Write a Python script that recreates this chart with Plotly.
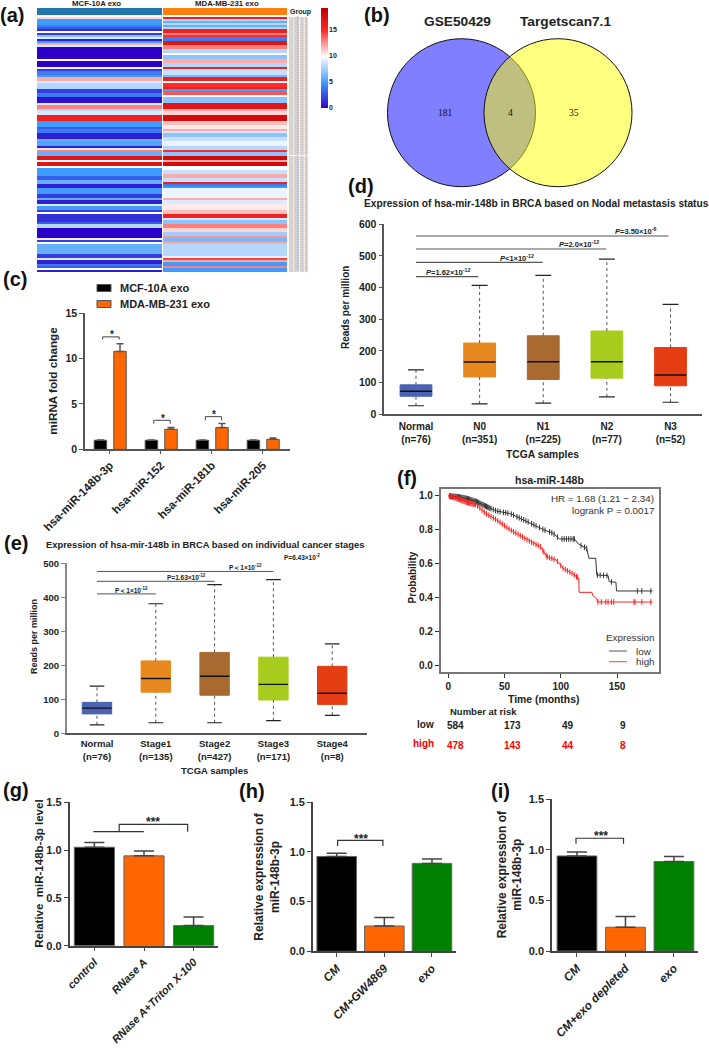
import numpy as np
import plotly.graph_objects as go

W, H = 709, 1048
FONT = "Liberation Sans"

# ---------- (a) heatmap
heat_groups = ["MCF-10A exo", "MDA-MB-231 exo"]
heat_left = [11,5,5,5,4,3,1.5,10,2,7,9,1,5,12,9,0,0,0,0,0,0,10,0,0,0,9.5,2,4,4,5,12,12,9,8,8,8,2,2,4,4,0.5,0.5,0.5,9,13,13,8,9,9,16,16,16,5,5,5,3,4,4,1,1,1,6,5.5,5.5,1,9,13,6,6,17,17,10,17,17,10,5,5,5,5,3,3,6,6,1,1,5,5,5,2,2,6,1,1,9,5,5,2,10,1.5,1.5,1.5,1.5,3,8,8,0,0,0,0,0,9.5,2,10,6,6,6,6,6,2,2,9,1,1,4,3,10,1]
heat_right = [16,8,6,8,6,8,16,16,13,15,4,4,17,17,13,13,8,8,10,7,7,12,12,8,8,16,8.5,8.5,8.5,6.5,16,16,10,15,15,16,5,14,14,10,7,7,7,17,17,17,12,11,11,18,18,18,11.5,11.5,10.5,10.5,12,9,7,7,8.5,8.5,9.5,9.5,8,8,15,7,7,18,18,12,18,18,10,10,8.5,8.5,12,12,8.5,8.5,16,4,5,9.5,9.5,9.5,9.5,9.5,12,9,9,10.5,10.5,10.5,11.5,11.5,16,16,9,7,7,13,13,11,11,7.5,7.5,12.5,6.5,6.5,12,8,8,8,8,8,8,9.5,14.5,12,5,5,13,5,5]
heat_right = heat_right[:len(heat_left)]
heat_labels = ["hsa-miR-xxx-5p"] * len(heat_left)
heat_ticks = [0, 5, 10, 15]
heat_scale = [0, 1, 2, 3, 4, 5, 6, 7, 8, 9, 10, 11, 12, 13, 14, 15, 16, 17, 18, 19]

# ---------- (b) venn
venn_names = ["GSE50429", "Targetscan7.1"]
venn_counts = ["181", "4", "35"]
venn_centers = [-0.652, 0.652]

# ---------- (c)
c_cats = ["hsa-miR-148b-3p", "hsa-miR-152", "hsa-miR-181b", "hsa-miR-205"]
c_10a = [1, 1, 1, 1]
c_231 = [10.8, 2.2, 2.4, 1.1]
c_10a_err = [0.03, 0.03, 0.03, 0.03]
c_231_err = [0.85, 0.2, 0.45, 0.15]

# ---------- (d)
d_cats = ["Normal<br>(n=76)", "N0<br>(n=351)", "N1<br>(n=225)", "N2<br>(n=77)", "N3<br>(n=52)"]
d_low = [27, 33, 35, 55, 38]
d_q1 = [57, 118, 110, 114, 90]
d_med = [73, 165, 166, 166, 124]
d_q3 = [93, 225, 248, 263, 211]
d_high = [140, 407, 439, 490, 347]
d_p_y = [435, 480, 522, 563]
box_colors = ["#4A63B4", "#E8891F", "#A86A30", "#A8CC1E", "#E43D14"]

# ---------- (e)
e_cats = ["Normal<br>(n=76)", "Stage1<br>(n=135)", "Stage2<br>(n=427)", "Stage3<br>(n=171)", "Stage4<br>(n=8)"]
e_low = [25, 31, 31, 37, 53]
e_q1 = [57, 121, 112, 98, 85]
e_med = [74, 161, 168, 144, 118]
e_q3 = [91, 213, 238, 224, 197]
e_high = [139, 381, 437, 452, 263]
e_p_y = [410, 447, 476, 507]

# ---------- (f)
km_low_t = [0,7.4,16,25,34,43,55,64,73,85,93,99,112,116,123,125,131,132,142,143,149,149.5,181.6]
km_low_p = [1,.996,.986,.967,.937,.911,.896,.868,.84,.80,.78,.746,.746,.715,.69,.632,.632,.533,.53,.494,.49,.439,.439]
km_high_t = [0,7.4,16,25,33,43,55,64,73,82,87.5,96,102,110,116,116.3,127.6,128.5,132,132.6,181.6]
km_high_p = [1,.986,.963,.947,.898,.858,.80,.766,.73,.70,.642,.622,.573,.543,.514,.431,.431,.411,.392,.374,.374]
km_low_cens = [1,2,3,4,5,6,7,8,9,10,11,12,13,14,15,16,17,18,19,20,21,22,23,24,25,26,27,28,29,30,31,32,33,34,35,36,37,38,40,42,44,46,49,51,53,56,58,61,63,65,67,69,71,74,76,78,81,84,86,90,92,94,97,101,103,105,107,109,111,112,118,121,123,132.5,135,138,141,145,168,172,180]
km_high_cens = [1,2,3,4,5,6,7,8,9,10,11,12,13,14,15,16,17,18,19,20,21,22,23,24,26,28,30,32,34,36,38,40,42,44,46,48,50,52,54,56,58,60,62,64,66,68,70,72,74,76,78,80,82,84,85,87,88,90,92,94,97,100,102,104,106,108,110,112,114,115,133,136,140,142,145,147,165,166,172,180]
risk_months = ["584", "173", "49", "9"]
risk_high = ["478", "143", "44", "8"]

# ---------- (g)(h)(i)
g_cats = ["control", "RNase A", "RNase A+Triton X-100"]
g_vals = [1.03, 0.94, 0.21]
g_err = [0.05, 0.05, 0.09]
h_cats = ["CM", "CM+GW4869", "exo"]
h_vals = [0.955, 0.255, 0.885]
h_err = [0.032, 0.085, 0.045]
i_cats = ["CM", "CM+exo depleted", "exo"]
i_vals = [0.94, 0.235, 0.885]
i_err = [0.04, 0.105, 0.049]
bar3_colors = ["#000000", "#FF6600", "#008000"]


def xd(a, b):
    return [a / W, b / W]


def yd(top, bottom):
    return [1 - bottom / H, 1 - top / H]


fig = go.Figure()
annotations = []
shapes = []


def note(x, y, text, size=9.5, bold=True, anchor="center", color="#222", angle=0, family=FONT):
    if bold:
        text = "<b>%s</b>" % text
    annotations.append(dict(x=x / W, y=1 - y / H, xref="paper", yref="paper", text=text, showarrow=False,
                            xanchor=anchor, yanchor="middle", textangle=angle,
                            font=dict(size=size, color=color, family=family), align="center",
                            borderpad=0, borderwidth=0))


def line_axis(dom, rng, anchor, color="#555", lw=1.5, ticks="outside", **kw):
    d = dict(domain=dom, range=rng, anchor=anchor, showgrid=False, zeroline=False, showline=True,
             linecolor=color, linewidth=lw, ticks=ticks, ticklen=4, tickcolor=color, tickwidth=1.2,
             fixedrange=True)
    d.update(kw)
    return d


def tf(size=9.5, bold=True, color="#222"):
    return dict(size=size, color=color, family=FONT, weight="bold" if bold else "normal")


layout = {}

# (a)
HEAT_COLORS = [[0, "#2C00C8"], [0.26, "#3F9BFF"], [0.52, "#FFFFFF"], [0.78, "#FF2A2A"], [1, "#BE0000"]]
z = [[a, b] for a, b in zip(heat_left, heat_right)]
fig.add_heatmap(z=z, x=[0, 1], y=list(range(len(z))), xaxis="x", yaxis="y", zmin=0, zmax=19.2, xgap=1,
                colorscale=HEAT_COLORS, showscale=False)
layout["xaxis"] = dict(domain=xd(37, 288), range=[-0.5, 1.5], anchor="y", showticklabels=False, ticks="",
                       showgrid=False, zeroline=False, fixedrange=True)
layout["yaxis"] = dict(domain=yd(17, 272), range=[len(z) - 0.5, -0.5], anchor="x", side="right", tickmode="array",
                       tickvals=list(range(len(z))), ticktext=heat_labels, ticks="", ticklen=0,
                       tickfont=dict(size=2.7, color="#888", family=FONT), showgrid=False, zeroline=False, fixedrange=True)
fig.add_heatmap(z=[[0, 1]], x=[0, 1], y=[0], xaxis="x2", yaxis="y2", showscale=False, xgap=1,
                colorscale=[[0, "#2176AE"], [1, "#FF7F0E"]])
layout["xaxis2"] = dict(domain=xd(37, 288), range=[-0.5, 1.5], anchor="y2", showticklabels=False, ticks="",
                        showgrid=False, zeroline=False, fixedrange=True)
layout["yaxis2"] = dict(domain=yd(8, 15), range=[-0.5, 0.5], anchor="x2", showticklabels=False, ticks="",
                        showgrid=False, zeroline=False, fixedrange=True)
# colour key, drawn as a one-column heatmap with its own axis
fig.add_heatmap(z=[[v] for v in heat_scale], x=[0], y=heat_scale, xaxis="x11", yaxis="y11", zmin=0, zmax=19.2,
                colorscale=HEAT_COLORS, showscale=False, zsmooth="best")
layout["xaxis11"] = dict(domain=xd(321, 328), range=[-0.5, 0.5], anchor="y11", visible=False, fixedrange=True)
layout["yaxis11"] = dict(domain=yd(8, 108), range=[0, 19.2], anchor="x11", side="right", tickvals=heat_ticks, ticks="",
                         tickfont=tf(7), showgrid=False, zeroline=False, showline=False, fixedrange=True)
note(96, 3, heat_groups[0], 7.8)
note(227, 3, heat_groups[1], 7.8)
note(290, 12, "Group", 7, anchor="left")

# (b)
layout["xaxis3"] = dict(domain=xd(380, 640), range=[-1.753, 1.76], anchor="y3", visible=False, fixedrange=True)
layout["yaxis3"] = dict(domain=yd(30, 195), range=[-1.112, 1.118], anchor="x3", visible=False, fixedrange=True)
fig.add_scatter(x=venn_centers, y=[0, 0], xaxis="x3", yaxis="y3", mode="markers", marker=dict(opacity=0), hoverinfo="skip")
for cx, col in zip(venn_centers, ["rgba(0,0,255,0.5)", "rgba(255,255,0,0.5)"]):
    shapes.append(dict(type="circle", xref="x3", yref="y3", x0=cx - 1, x1=cx + 1, y0=-1, y1=1,
                       fillcolor=col, line=dict(color="#111", width=1)))
note(457, 21, venn_names[0], 13.7)
note(565, 21, venn_names[1], 13.7)
for x, t in zip([445, 510, 574], venn_counts):
    note(x, 113, t, 9.5, bold=False, family="Liberation Serif", color="#111")


def bars(n, xs, vals, errs, colors, width, offset=None, cap=3.5, ecolor="#555", lcolor="#555"):
    fig.add_bar(x=xs, y=vals, xaxis="x%d" % n, yaxis="y%d" % n, width=width, offset=offset,
                marker=dict(color=colors, line=dict(color=lcolor, width=1)),
                error_y=dict(type="data", symmetric=False, array=errs, arrayminus=[0] * len(errs), color=ecolor,
                             thickness=1.5, width=cap))


def seg(n, xs, ys, color="#444", w=1.0, dash="solid"):
    fig.add_scatter(x=xs, y=ys, xaxis="x%d" % n, yaxis="y%d" % n, mode="lines", cliponaxis=False,
                    line=dict(color=color, width=w, dash=dash), hoverinfo="skip")


# (c)
idx = list(range(4))
bars(4, idx, c_10a, c_10a_err, "#000000", 0.245, -0.31)
bars(4, idx, c_231, c_231_err, "#FF6600", 0.245, 0.074)
layout["xaxis4"] = line_axis(xd(85, 290), [-0.49, 3.53], "y4", tickmode="array", tickvals=idx, ticktext=["<b>%s</b>" % c for c in c_cats],
                             tickangle=-45, tickfont=tf(11.5, False), ticklen=3)
layout["yaxis4"] = line_axis(yd(313.3, 449.3), [0, 15], "x4", tickvals=[0, 5, 10, 15], tickfont=tf(10.5))
seg(4, [-.143, -.143, .18, .18, None, 0.86, 0.86, 1.18, 1.18, None, 1.87, 1.87, 2.19, 2.19],
    [12.1, 12.4, 12.4, 12.1, None, 2.82, 3.2, 3.2, 2.82, None, 3.2, 3.6, 3.6, 3.2])
for x, y in [(111.7, 335), (163, 418), (214, 414)]:
    note(x, y, "*", 10)
note(52.7, 381, "miRNA fold change", 11.7, angle=-90)
for y, col, t in [(288, "#000000", "MCF-10A exo"), (304, "#FF6600", "MDA-MB-231 exo")]:
    shapes.append(dict(type="rect", xref="paper", yref="paper", x0=97 / W, x1=111 / W, y0=1 - (y + 3.5) / H, y1=1 - (y - 3.5) / H,
                       fillcolor=col, line=dict(color="#555", width=1)))
    note(120, y, t, 11, anchor="left")


def boxes(n, low, q1, med, q3, high, width, cap):
    wx, wy, cx, cy, mx, my = [], [], [], [], [], []
    for i in range(len(low)):
        wx += [i, i, None, i, i, None]
        wy += [low[i], q1[i], None, q3[i], high[i], None]
        cx += [i - cap, i + cap, None, i - cap, i + cap, None]
        cy += [low[i], low[i], None, high[i], high[i], None]
        mx += [i - width / 2, i + width / 2, None]
        my += [med[i], med[i], None]
    seg(n, wx, wy, "#555", 1, "dot")
    seg(n, cx, cy, "#222", 1.2)
    for i in range(len(low)):
        fig.add_box(x=[i], q1=[q1[i]], median=[med[i]], q3=[q3[i]], lowerfence=[q1[i]], upperfence=[q3[i]],
                    xaxis="x%d" % n, yaxis="y%d" % n, width=width, fillcolor=box_colors[i], boxpoints=False,
                    line=dict(color=box_colors[i], width=1), whiskerwidth=0)
    seg(n, mx, my, "#111", 1.4)


# (d)
idx5 = list(range(5))
boxes(5, d_low, d_q1, d_med, d_q3, d_high, 0.5, 0.125)
layout["xaxis5"] = line_axis(xd(384.3, 701.7), [-0.498, 4.49], "y5", ticks="", tickmode="array", tickvals=idx5,
                             ticktext=d_cats, tickfont=tf(10), ticklabelstandoff=2)
layout["yaxis5"] = line_axis(yd(224.3, 414.3), [0, 600], "x5", tickvals=[0, 100, 200, 300, 400, 500, 600], tickfont=tf(10.5))
seg(5, [0, .98, None, 0, 1.99, None, 0, 2.99, None, 0, 3.97],
    [d_p_y[0], d_p_y[0], None, d_p_y[1], d_p_y[1], None, d_p_y[2], d_p_y[2], None, d_p_y[3], d_p_y[3]], "#555", 1.2)
note(536.5, 203, "Expression of hsa-mir-148b in BRCA based on Nodal metastasis status", 10.2)
note(345, 308, "Reads per million", 10, angle=-90)
note(542, 454, "TCGA samples", 10.3)
for x, y, t in [(448, 272, "<i>P</i>=1.62×10<sup>-12</sup>"), (517, 258, "<i>P</i>&lt;1×10<sup>-12</sup>"),
                (579, 244, "<i>P</i>=2.0×10<sup>-12</sup>"), (635, 230.7, "<i>P</i>=3.50×10<sup>-6</sup>")]:
    note(x, y, t, 7.5)

# (e)
boxes(6, e_low, e_q1, e_med, e_q3, e_high, 0.5, 0.125)
layout["xaxis6"] = line_axis(xd(66.7, 366.5), [-0.515, 4.583], "y6", ticks="", tickmode="array", tickvals=idx5,
                             ticktext=e_cats, tickfont=tf(9.5), ticklabelstandoff=1)
layout["yaxis6"] = line_axis(yd(563.3, 733.3), [0, 500], "x6", tickvals=[0, 100, 200, 300, 400, 500], tickfont=tf(9.5),
                             linecolor="#888", tickcolor="#888")
seg(6, [0, 1, None, 0, 2, None, 0, 3, None, 0, 3.95],
    [e_p_y[0], e_p_y[0], None, e_p_y[1], e_p_y[1], None, e_p_y[2], e_p_y[2], None, e_p_y[3], e_p_y[3]], "#555", 1)
note(205, 544, "Expression of hsa-mir-148b in BRCA based on individual cancer stages", 9.4)
note(33.3, 636.7, "Reads per million", 9, angle=-90)
note(215, 770, "TCGA samples", 9.5)
for x, y, t in [(131, 590, "P＜1×10<sup>-12</sup>"), (186, 577, "P=1.63×10<sup>-12</sup>"),
                (245, 566.7, "P＜1×10<sup>-12</sup>"), (301.7, 556.7, "P=6.43×10<sup>-2</sup>")]:
    note(x, y, t, 6.5)

# (f)
for t, p, cens, col in [(km_low_t, km_low_p, km_low_cens, "#333333"), (km_high_t, km_high_p, km_high_cens, "#FF2020")]:
    fig.add_scatter(x=t, y=p, xaxis="x7", yaxis="y7", mode="lines", line=dict(color=col, width=1), hoverinfo="skip")
    fig.add_scatter(x=cens, y=np.interp(cens, t, p), xaxis="x7", yaxis="y7", mode="markers",
                    marker=dict(symbol="line-ns", size=4, line=dict(color=col, width=1)), hoverinfo="skip")
layout["xaxis7"] = line_axis(xd(440.7, 658.7), [-6.75, 187], "y7", color="#777", mirror=True, tickvals=[0, 50, 100, 150],
                             tickfont=tf(10), tickcolor="#333")
layout["yaxis7"] = line_axis(yd(489, 672.3), [-0.041, 1.041], "x7", color="#777", mirror=True,
                             tickvals=[0, 0.2, 0.4, 0.6, 0.8, 1.0], tickformat=".1f", tickfont=tf(10), tickcolor="#333")
note(549, 480, "hsa-miR-148b", 10.5)
note(654, 499, "HR = 1.68 (1.21 − 2.34)", 9.8, bold=False, anchor="right", color="#333")
note(654, 510.7, "logrank P = 0.0017", 9.8, bold=False, anchor="right", color="#333")
note(654, 637, "Expression", 9.8, bold=False, anchor="right", color="#333")
note(636, 651, "low", 9.8, bold=False, anchor="left", color="#333")
note(636, 661.7, "high", 9.8, bold=False, anchor="left", color="#333")
for y, col in [(651, "#555"), (661.7, "#FF4040")]:
    shapes.append(dict(type="line", xref="paper", yref="paper", x0=609 / W, x1=627 / W, y0=1 - y / H, y1=1 - y / H,
                       line=dict(color=col, width=1)))
note(412.7, 577.7, "Probability", 10, angle=-90)
note(543, 699, "Time (months)", 10.4)
note(483, 711, "Number at risk", 9.5)
note(425.6, 724, "low", 10)
note(423, 743.4, "high", 10, color="#FF0000")
for x, a, b in zip([455.8, 512, 568, 623.4], risk_months, risk_high):
    note(x, 725, a, 10)
    note(x, 745.7, b, 10, color="#FF0000")

# (g)(h)(i)
def ital(cs):
    return ["<b><i>%s</i></b>" % c for c in cs]


def bar_panel(n, cats, vals, errs, xdom, xrange, top, bottom, width, tsize=11.8):
    idx3 = [0, 1, 2]
    bars(n, idx3, vals, errs, bar3_colors, width, None, cap=10, ecolor="#444", lcolor="#666")
    layout["xaxis%d" % n] = line_axis(xdom, xrange, "y%d" % n, color="#444", tickmode="array", tickvals=idx3,
                                      ticktext=ital(cats), tickangle=-45, tickfont=tf(tsize, False))
    layout["yaxis%d" % n] = line_axis(yd(top, bottom), [0, 1.5], "x%d" % n, color="#444", tickvals=[0, 0.5, 1.0, 1.5],
                                      tickformat=".1f", tickfont=tf(11))


bar_panel(8, g_cats, g_vals, g_err, xd(69.6, 217.6), [-0.5, 2.484], 802.3, 945.7, 0.81, tsize=11)
bar_panel(9, h_cats, h_vals, h_err, xd(312.9, 455.8), [-0.4995, 2.5], 802.3, 951.3, 0.83)
bar_panel(10, i_cats, i_vals, i_err, xd(552, 697.7), [-0.515, 2.49], 799.3, 951, 0.82)
seg(8, [-0.02, 0.995, None, 0.5, 0.5, 1.88, 1.88], [1.193, 1.193, None, 1.193, 1.27, 1.27, 1.193], "#333", 1.2)
seg(9, [0.02, 0.02, 0.97, 0.97], [1.06, 1.117, 1.117, 1.06], "#333", 1.2)
seg(10, [-0.02, -0.02, 0.96, 0.96], [1.06, 1.115, 1.115, 1.06], "#333", 1.2)
note(152.5, 822, "***", 12)
note(361.4, 839, "***", 12)
note(601, 836, "***", 12)
note(39, 873.7, "Relative  miR-148b-3p level", 11.5, angle=-90)
note(267, 876.7, "Relative expression of<br>miR-148b-3p", 12, angle=-90)
note(510, 874.3, "Relative expression of<br>miR-148b-3p", 12, angle=-90)

# panel letters
for x, y, t in [(12, 15, "(a)"), (377, 15, "(b)"), (15, 279, "(c)"), (361, 186, "(d)"), (16, 543, "(e)"),
                (407, 478, "(f)"), (16, 790, "(g)"), (252, 791, "(h)"), (500, 791, "(i)")]:
    note(x, y, t, 20, color="#111")

fig.update_layout(width=W, height=H, margin=dict(l=0, r=0, t=0, b=0), autosize=False, showlegend=False,
                  paper_bgcolor="white", plot_bgcolor="white", barmode="overlay", annotations=annotations, shapes=shapes,
                  font=dict(family=FONT), **layout)
fig.update_xaxes(automargin=False)
fig.update_yaxes(automargin=False)
fig.write_html("out.html", config={"displayModeBar": False},
               post_script="document.body.style.margin='0';")
